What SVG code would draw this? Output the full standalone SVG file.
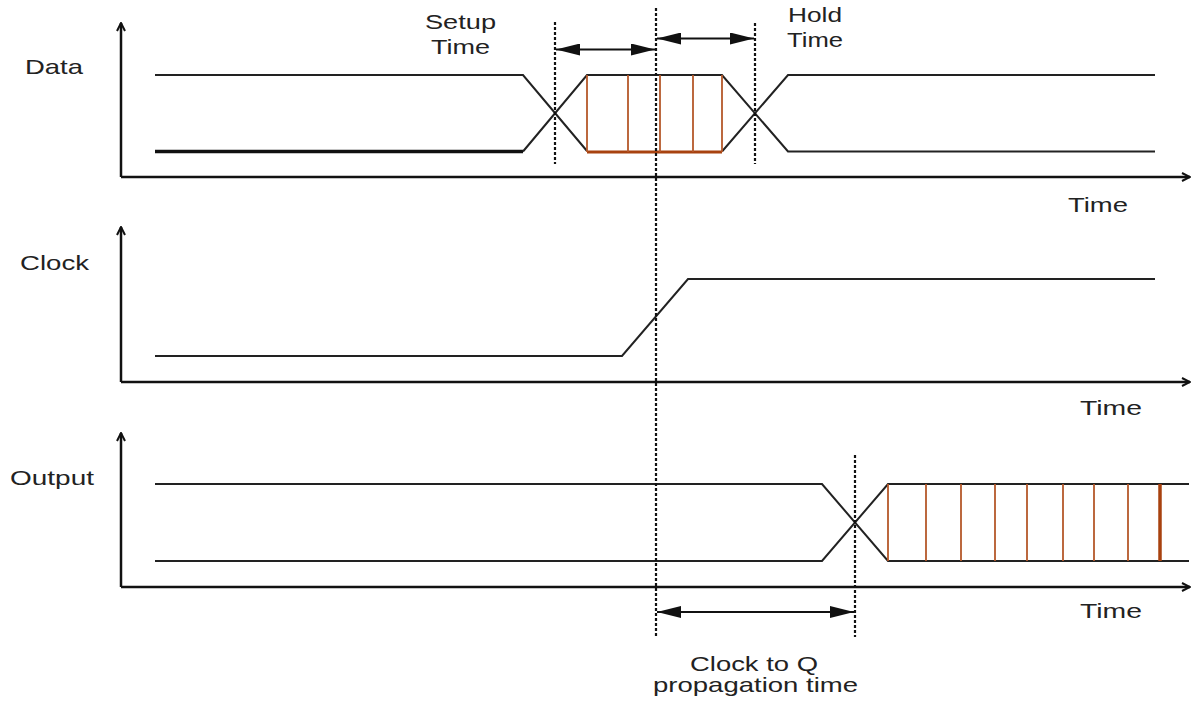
<svg xmlns="http://www.w3.org/2000/svg" width="1198" height="704" viewBox="0 0 1198 704">
<defs>
<marker id="open" viewBox="0 0 10 10" refX="9" refY="5" markerWidth="10" markerHeight="10" markerUnits="userSpaceOnUse" orient="auto">
<path d="M1,1 L9,5 L1,9" fill="none" stroke="#111" stroke-width="2"/>
</marker>
<marker id="solid" viewBox="0 0 24 12" refX="24" refY="6" markerWidth="24" markerHeight="12" markerUnits="userSpaceOnUse" orient="auto-start-reverse">
<path d="M0,0 L24,6 L0,12 Z" fill="#111"/>
</marker>
</defs>
<style>
.ax{stroke:#111;stroke-width:2.5;fill:none;marker-end:url(#open)}
.sig{stroke:#222;stroke-width:2;fill:none}
.thick{stroke:#111;stroke-width:3.4;fill:none}
.br{stroke:#b5582a;stroke-width:1.8}
.brt{stroke:#a8420f;stroke-width:3.5}
.dot{stroke:#111;stroke-width:2.2;stroke-dasharray:3,2;fill:none}
.dim{stroke:#111;stroke-width:2;fill:none;marker-start:url(#solid);marker-end:url(#solid)}
text{font-family:"Liberation Sans",Arial,sans-serif;font-size:21px;fill:#222}
</style>
<g id="data">
<path class="ax" d="M121,177 L121,23"/>
<path class="ax" d="M121,177 L1190,177"/>
<path class="sig" d="M155,75 L523,75 L587,151"/>
<path class="thick" d="M155,151.5 L523,151.5"/>
<path class="sig" d="M523,151.5 L587,75 L722,75 L788,151.5 L1155,151.5"/>
<path class="sig" d="M722,151.5 L788,75 L1155,75"/>
<line x1="587" y1="152" x2="722" y2="152" stroke="#a8420f" stroke-width="3"/>
<g class="br">
<line x1="587" y1="75" x2="587" y2="152"/>
<line x1="628" y1="75" x2="628" y2="152"/>
<line x1="660" y1="75" x2="660" y2="152"/>
<line x1="693" y1="75" x2="693" y2="152"/>
<line x1="722" y1="75" x2="722" y2="152"/>
</g>
<text x="25" y="74" textLength="58" lengthAdjust="spacingAndGlyphs">Data</text>
<text x="1068" y="212" textLength="60" lengthAdjust="spacingAndGlyphs">Time</text>
</g>
<g id="clock">
<path class="ax" d="M121,382 L121,227"/>
<path class="ax" d="M121,382 L1190,382"/>
<path class="sig" d="M155,356 L622,356 L688,279 L1155,279"/>
<text x="20" y="270" textLength="69" lengthAdjust="spacingAndGlyphs">Clock</text>
<text x="1080" y="415" textLength="62" lengthAdjust="spacingAndGlyphs">Time</text>
</g>
<g id="output">
<path class="ax" d="M121,587 L121,433"/>
<path class="ax" d="M121,587 L1190,587"/>
<path class="sig" d="M155,484 L822,484 L888,561 L1189,561"/>
<path class="sig" d="M155,561 L822,561 L888,484 L1189,484"/>
<g class="br">
<line x1="888" y1="484" x2="888" y2="561"/>
<line x1="926" y1="484" x2="926" y2="561"/>
<line x1="961" y1="484" x2="961" y2="561"/>
<line x1="995" y1="484" x2="995" y2="561"/>
<line x1="1027" y1="484" x2="1027" y2="561"/>
<line x1="1063" y1="484" x2="1063" y2="561"/>
<line x1="1094" y1="484" x2="1094" y2="561"/>
<line x1="1128" y1="484" x2="1128" y2="561"/>
</g>
<line class="brt" x1="1160" y1="484" x2="1160" y2="561"/>
<text x="10" y="485" textLength="84" lengthAdjust="spacingAndGlyphs">Output</text>
<text x="1080" y="618" textLength="62" lengthAdjust="spacingAndGlyphs">Time</text>
</g>
<g id="connectors">
<line class="dot" x1="555" y1="22" x2="555" y2="164"/>
<line class="dot" x1="656" y1="8" x2="656" y2="637"/>
<line class="dot" x1="755" y1="23" x2="755" y2="164"/>
<line class="dot" x1="855" y1="455" x2="855" y2="637"/>
<line class="dim" x1="556" y1="49.5" x2="655" y2="49.5"/>
<line class="dim" x1="657" y1="38.5" x2="754" y2="38.5"/>
<line class="dim" x1="657" y1="612" x2="854" y2="612"/>
</g>
<g id="labels">
<text x="425" y="29" textLength="71" lengthAdjust="spacingAndGlyphs">Setup</text>
<text x="431" y="54" textLength="59" lengthAdjust="spacingAndGlyphs">Time</text>
<text x="788" y="22" textLength="54" lengthAdjust="spacingAndGlyphs">Hold</text>
<text x="787" y="47" textLength="56" lengthAdjust="spacingAndGlyphs">Time</text>
<text x="690" y="671" textLength="128" lengthAdjust="spacingAndGlyphs">Clock to Q</text>
<text x="653" y="692" textLength="205" lengthAdjust="spacingAndGlyphs">propagation time</text>
</g>
</svg>
